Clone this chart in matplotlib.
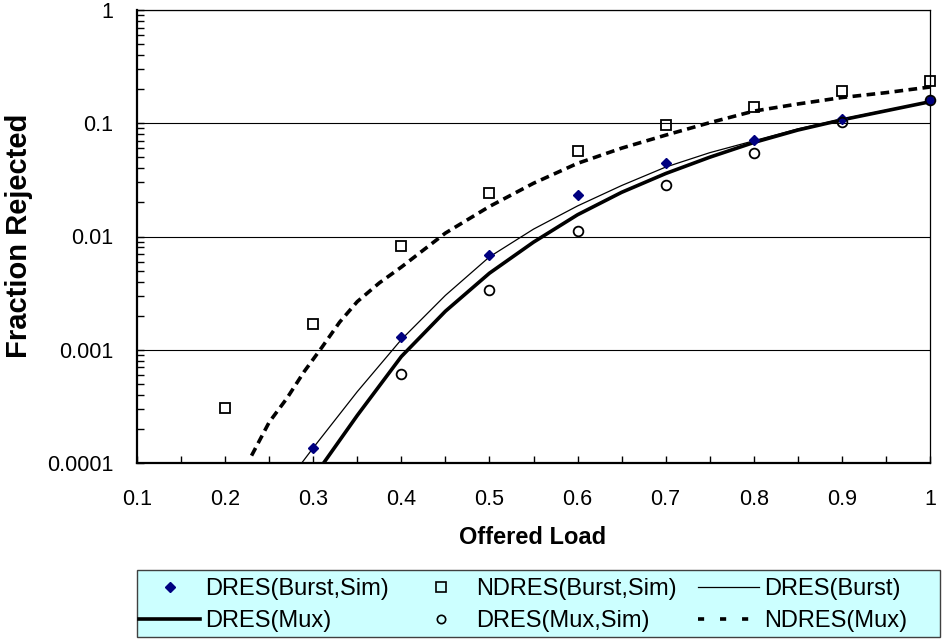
import numpy as np
import matplotlib
matplotlib.use("Agg")
import matplotlib.pyplot as plt
from matplotlib.lines import Line2D
from matplotlib.patches import Rectangle
from matplotlib.ticker import LogLocator, MultipleLocator, NullFormatter

plt.rcParams['font.family'] = ['Liberation Sans', 'DejaVu Sans']

# simulation points
load_dres_burst_sim = [0.3, 0.4, 0.5, 0.6, 0.7, 0.8, 0.9, 1.0]
dres_burst_sim = [1.36e-4, 1.29e-3, 6.9e-3, 0.0232, 0.045, 0.0713, 0.109, 0.160]

load_ndres_burst_sim = [0.2, 0.3, 0.4, 0.5, 0.6, 0.7, 0.8, 0.9, 1.0]
ndres_burst_sim = [3.05e-4, 1.69e-3, 8.3e-3, 0.0242, 0.0569, 0.0966, 0.1405, 0.1945, 0.237]

load_dres_mux_sim = [0.4, 0.5, 0.6, 0.7, 0.8, 0.9, 1.0]
dres_mux_sim = [6.05e-4, 3.34e-3, 0.0112, 0.0284, 0.0543, 0.1024, 0.160]

# analytic curves (log10 of fraction rejected)
load_dres_burst = [0.285, 0.3, 0.35, 0.4, 0.45, 0.5, 0.55, 0.6, 0.65, 0.7, 0.75, 0.8, 0.85, 0.9, 0.95, 1.0]
log_dres_burst = [-4.02, -3.866, -3.37, -2.91, -2.52, -2.18, -1.935, -1.73, -1.55, -1.387,
                  -1.26, -1.155, -1.05, -0.963, -0.885, -0.81]

load_dres_mux = [0.31, 0.35, 0.4, 0.45, 0.5, 0.55, 0.6, 0.65, 0.7, 0.75, 0.8, 0.85, 0.9, 0.95, 1.0]
log_dres_mux = [-4.02, -3.58, -3.06, -2.66, -2.324, -2.05, -1.808, -1.61, -1.444, -1.30,
                -1.17, -1.06, -0.97, -0.89, -0.81]

load_ndres_mux = [0.23, 0.25, 0.27, 0.29, 0.31, 0.33, 0.35, 0.375, 0.4, 0.45, 0.5, 0.55, 0.6,
                  0.65, 0.7, 0.75, 0.8, 0.85, 0.9, 0.95, 1.0]
log_ndres_mux = [-3.935, -3.64, -3.43, -3.19, -2.977, -2.756, -2.575, -2.41, -2.27, -1.97, -1.735,
                 -1.53, -1.354, -1.22, -1.105, -0.995, -0.893, -0.83, -0.773, -0.73, -0.68]

x_ticks = [0.1, 0.2, 0.3, 0.4, 0.5, 0.6, 0.7, 0.8, 0.9, 1.0]
x_tick_labels = ['0.1', '0.2', '0.3', '0.4', '0.5', '0.6', '0.7', '0.8', '0.9', '1']
y_ticks = [1e-4, 1e-3, 1e-2, 1e-1, 1]
y_tick_labels = ['0.0001', '0.001', '0.01', '0.1', '1']

W, H = 953, 639
fig = plt.figure(figsize=(W / 100, H / 100), dpi=100)
ax = fig.add_axes([137 / W, 1 - 463 / H, (930 - 137) / W, (463 - 10) / H])

navy = '#000080'
ax.plot(load_dres_burst_sim, dres_burst_sim, ls='none', marker='D', ms=5.4, color=navy,
        zorder=5, clip_on=False)
ax.plot(load_ndres_burst_sim, ndres_burst_sim, ls='none', marker='s', ms=7.8, mfc='none',
        mec='black', mew=1.3, zorder=5, clip_on=False)
ax.plot(load_dres_burst, 10 ** np.array(log_dres_burst), color='black', lw=0.9, zorder=4)
ax.plot(load_dres_mux, 10 ** np.array(log_dres_mux), color='black', lw=2.6, zorder=4)
ax.plot(load_dres_mux_sim, dres_mux_sim, ls='none', marker='o', ms=7, mfc='none',
        mec='black', mew=1.3, zorder=6, clip_on=False)
ax.plot(load_ndres_mux, 10 ** np.array(log_ndres_mux), color='black', lw=2.6,
        dashes=(2.4, 1.5), dash_capstyle='butt', zorder=4)

ax.set_yscale('log')
ax.set_xlim(0.1, 1.0)
ax.set_ylim(1e-4, 1)

ax.set_xticks(x_ticks)
ax.set_xticklabels(x_tick_labels)
ax.xaxis.set_minor_locator(MultipleLocator(0.05))
ax.set_yticks(y_ticks)
ax.set_yticklabels(y_tick_labels)
ax.yaxis.set_minor_locator(LogLocator(base=10, subs=np.arange(2, 10)))
ax.yaxis.set_minor_formatter(NullFormatter())

ax.tick_params(which='both', direction='in', length=5, width=1, top=False, right=False,
               labelsize=15.5)
ax.tick_params(axis='x', pad=19)
ax.tick_params(axis='y', pad=17)

ax.grid(True, which='major', axis='y', color='black', lw=0.8)
for side in ['left', 'bottom']:
    ax.spines[side].set_linewidth(1.6)
for side in ['top', 'right']:
    ax.spines[side].set_linewidth(0.9)

fig.text(533 / W, 1 - 538 / H, 'Offered Load', ha='center', va='center',
         fontsize=17, fontweight='bold')
fig.text(19 / W, 1 - 236 / H, 'Fraction Rejected', ha='center', va='center',
         rotation=90, fontsize=21, fontweight='bold')

# legend background box
fig.patches.append(Rectangle((137 / W, 1 - 637 / H), (940 - 137) / W, (637 - 570) / H,
                             transform=fig.transFigure, facecolor='#CCFFFF',
                             edgecolor='#404040', lw=1.0, zorder=0))

# legend entries, three columns filled row by row
h_dbs = Line2D([], [], ls='none', marker='D', ms=5.4, color=navy)
h_nbs = Line2D([], [], ls='none', marker='s', ms=6.5, mfc='none', mec='black', mew=1.2)
h_db = Line2D([], [], color='black', lw=0.9)
h_dm = Line2D([], [], color='black', lw=2.6)
h_dms = Line2D([], [], ls='none', marker='o', ms=6, mfc='none', mec='black', mew=1.2)
h_nm = Line2D([], [], color='black', lw=2.6, dashes=(1.7, 4.4), dash_capstyle='butt')
handles = [h_dbs, h_dm, h_nbs, h_dms, h_db, h_nm]
labels = ['DRES(Burst,Sim)', 'DRES(Mux)', 'NDRES(Burst,Sim)', 'DRES(Mux,Sim)',
          'DRES(Burst)', 'NDRES(Mux)']
leg = fig.legend(handles, labels, loc='upper left', bbox_to_anchor=(133 / W, 1 - 572 / H),
                 ncol=3, fontsize=17, handlelength=2.6, handletextpad=0.2, borderpad=0.25,
                 labelspacing=0.42, columnspacing=0.9, frameon=False, borderaxespad=0)

fig.savefig('out.png', dpi=100)
